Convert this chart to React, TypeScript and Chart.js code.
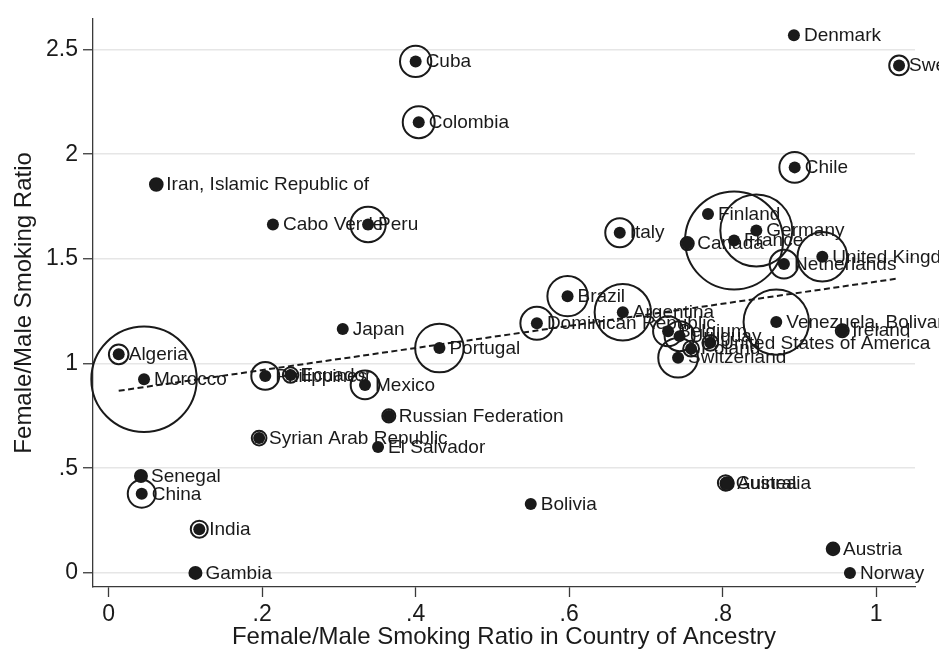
import React, { useEffect, useRef } from "react";
import { Chart, registerables } from "chart.js";

Chart.register(...registerables);

const countries = [
  "Denmark", "Sweden", "Cuba", "Colombia", "Chile", "Iran, Islamic Republic of",
  "Cabo Verde", "Peru", "Finland", "Germany", "France", "Italy", "Canada",
  "Netherlands", "United Kingdom", "Brazil", "Argentina", "Dominican Republic",
  "Venezuela, Bolivarian Republic of", "Ireland", "Japan", "Algeria", "Portugal",
  "Belgium", "Uruguay", "Poland", "United States of America", "Switzerland",
  "Morocco", "Philippines", "Ecuador", "Mexico", "Russian Federation",
  "Syrian Arab Republic", "El Salvador", "Senegal", "China", "India", "Gambia",
  "Bolivia", "Guinea", "Australia", "Austria", "Norway",
];

// Female/Male smoking ratio in country of ancestry (x)
const ancestryRatio = [
  0.893, 1.030, 0.400, 0.404, 0.894, 0.062,
  0.214, 0.338, 0.781, 0.844, 0.815, 0.666, 0.754,
  0.880, 0.930, 0.598, 0.670, 0.558,
  0.870, 0.956, 0.305, 0.013, 0.431,
  0.729, 0.744, 0.759, 0.784, 0.742,
  0.046, 0.204, 0.237, 0.334, 0.365,
  0.196, 0.351, 0.042, 0.043, 0.118, 0.113,
  0.550, 0.804, 0.806, 0.944, 0.966,
];

// Female/Male smoking ratio (y)
const smokingRatio = [
  2.568, 2.424, 2.443, 2.153, 1.937, 1.855,
  1.664, 1.664, 1.714, 1.635, 1.588, 1.625, 1.573,
  1.475, 1.510, 1.322, 1.245, 1.192,
  1.198, 1.157, 1.165, 1.044, 1.074,
  1.154, 1.131, 1.071, 1.099, 1.028,
  0.925, 0.941, 0.945, 0.898, 0.750,
  0.644, 0.601, 0.463, 0.378, 0.209, 0.000,
  0.329, 0.430, 0.426, 0.115, 0.000,
];

// Analytic weights (marker size)
const weights = [
  0.5, 3.85, 9.8, 10.2, 9.4, 1.6,
  0.5, 12.5, 0.5, 51.8, 96, 8.4, 1.69,
  8.2, 24.6, 16.3, 31.8, 10.9,
  42.8, 1.69, 0.5, 3.85, 23.6,
  9, 9, 2.5, 2.5, 15.7,
  111, 7.8, 2.4, 8.2, 1.7,
  2.15, 0.5, 1.44, 7.8, 2.9, 1.44,
  0.5, 2.4, 1.7, 1.6, 0.5,
];

// Fitted line endpoints
const fitX = [0.013, 1.030];
const fitY = [0.870, 1.407];

const xTicks = [0, 0.2, 0.4, 0.6, 0.8, 1];
const yTicks = [0, 0.5, 1, 1.5, 2, 2.5];

const xTitle = "Female/Male Smoking Ratio in Country of Ancestry";
const yTitle = "Female/Male Smoking Ratio";

const FONT = '"Liberation Sans", Arial, Helvetica, sans-serif';
const INK = "#1a1a1a";
const AXIS = "#3a3a3a";

const fmt = (v: number) => (v === 0 ? "0" : String(v).replace(/^0\./, "."));

const labelPlugin = {
  id: "pointLabels",
  afterDatasetsDraw(chart: any) {
    const meta = chart.getDatasetMeta(0);
    const ctx = chart.ctx;
    ctx.save();
    ctx.font = `19px ${FONT}`;
    ctx.fillStyle = INK;
    ctx.textBaseline = "middle";
    ctx.textAlign = "left";
    meta.data.forEach((el: any, i: number) => {
      ctx.fillText(countries[i], el.x + 10, el.y + 0.5);
    });
    ctx.restore();
  },
};

export default function App() {
  const ref = useRef<HTMLCanvasElement | null>(null);

  useEffect(() => {
    if (!ref.current) return;
    const points = ancestryRatio.map((x, i) => ({ x, y: smokingRatio[i] }));
    const fit = fitX.map((x, i) => ({ x, y: fitY[i] }));
    const chart = new Chart(ref.current, {
      type: "scatter",
      data: {
        datasets: [
          {
            label: "dots",
            data: points,
            pointRadius: 6,
            pointBackgroundColor: INK,
            pointBorderWidth: 0,
            clip: false,
          } as any,
          {
            label: "weights",
            data: points,
            pointRadius: (c: any) => 5 * Math.sqrt(weights[c.dataIndex] ?? 0),
            pointBackgroundColor: "rgba(0,0,0,0)",
            pointBorderColor: INK,
            pointBorderWidth: 2,
            clip: false,
          } as any,
          {
            type: "line",
            label: "fit",
            data: fit,
            showLine: true,
            borderColor: INK,
            borderWidth: 2,
            borderDash: [6, 3.5],
            pointRadius: 0,
            fill: false,
          } as any,
        ],
      },
      options: {
        animation: false,
        responsive: false,
        events: [],
        devicePixelRatio: 1,
        layout: { autoPadding: false, padding: { top: 10, right: 24, left: 0, bottom: 0 } },
        plugins: {
          legend: { display: false },
          tooltip: { enabled: false },
        },
        scales: {
          x: {
            type: "linear",
            min: -0.0205,
            max: 1.0508,
            afterBuildTicks: (s: any) => {
              s.ticks = xTicks.map((v) => ({ value: v }));
            },
            afterFit: (s: any) => {
              s.height = 68;
            },
            grid: {
              drawOnChartArea: false,
              drawTicks: true,
              tickLength: 10,
              tickColor: AXIS,
              tickWidth: 1.3,
            },
            border: { display: true, color: AXIS, width: 1.3 },
            ticks: {
              font: { family: FONT, size: 23 },
              color: INK,
              padding: 4,
              maxRotation: 0,
              autoSkip: false,
              callback: (v: any) => fmt(Number(v)),
            },
            title: {
              display: true,
              text: xTitle,
              font: { family: FONT, size: 24 },
              color: INK,
              padding: { top: 0, bottom: 3 },
            },
          },
          y: {
            type: "linear",
            min: -0.0673,
            max: 2.6467,
            afterBuildTicks: (s: any) => {
              s.ticks = yTicks.map((v) => ({ value: v }));
            },
            afterFit: (s: any) => {
              s.width = 93;
            },
            grid: {
              color: "#e6e6e6",
              lineWidth: 1.5,
              drawTicks: true,
              tickLength: 10,
              tickColor: AXIS,
              tickWidth: 1.3,
            },
            border: { display: true, color: AXIS, width: 1.3 },
            ticks: {
              font: { family: FONT, size: 23 },
              color: INK,
              padding: 5,
              autoSkip: false,
              callback: (v: any) => fmt(Number(v)),
            },
            title: {
              display: true,
              text: yTitle,
              font: { family: FONT, size: 24 },
              color: INK,
              padding: { top: 10, bottom: 0 },
            },
          },
        },
      } as any,
      plugins: [labelPlugin],
    });
    return () => chart.destroy();
  }, []);

  return (
    <div style={{ position: "fixed", left: 0, top: 0, width: 939, height: 655, background: "#fff" }}>
      <canvas ref={ref} width={939} height={655} />
    </div>
  );
}
